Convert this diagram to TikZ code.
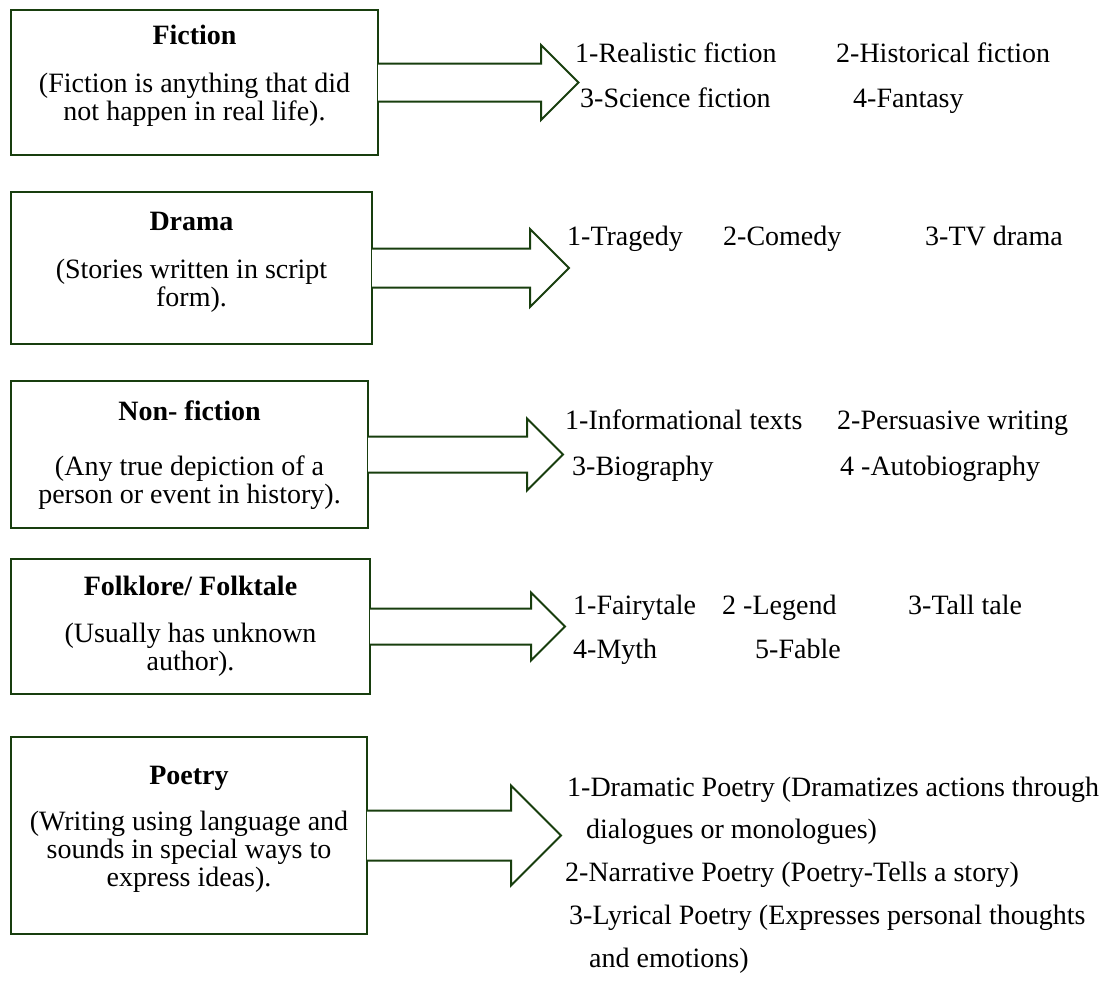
\documentclass[tikz,border=0pt]{standalone}
\usepackage{fontspec}
\setmainfont{Liberation Serif}
\usepackage{tikz}

\definecolor{boxgreen}{RGB}{24,62,14}

\begin{document}
\begin{tikzpicture}[x=1pt,y=-1pt,
	catbox/.style={draw=boxgreen,line width=2pt,rectangle,anchor=north west,inner sep=0pt},
	catarrow/.style={draw=boxgreen,line width=2pt,fill=white,line join=miter},
	cattitle/.style={font=\fontsize{28}{28}\selectfont\bfseries,anchor=base,inner sep=0pt},
	catdesc/.style={font=\fontsize{28}{28}\selectfont,align=center,anchor=base,inner sep=0pt},
	item/.style={font=\fontsize{28}{28}\selectfont,anchor=base west,inner sep=0pt}]
	\useasboundingbox (0,0) rectangle (1101,985);

	% Fiction
	\node[catbox,minimum width=367pt,minimum height=145pt] (fic) at (10,9) {};
	\node[cattitle] (ficTitle) at ([yshift=-36pt]fic.north) {Fiction};
	\node[catdesc] (ficDesc) at ([yshift=-111pt]fic.north) {(Fiction is anything that did\\not happen in real life).};
	% open at the box side, the fill hides the box edge there
	\draw[catarrow] ([xshift=-1pt,yshift=19pt]fic.east) -- ++(163,0) -- ++(0,-18.5)
		-- ++(37.5,37.5) -- ++(-37.5,37.5) -- ++(0,-18.5) -- ++(-163,0);
	\node[item] (ficA) at (575,62) {1-Realistic fiction};
	\node[item] (ficB) at (836,62) {2-Historical fiction};
	\node[item] (ficC) at (580,107) {3-Science fiction};
	\node[item] (ficD) at (853,107) {4-Fantasy};

	% Drama
	\node[catbox,minimum width=361pt,minimum height=152pt] (dra) at (10,191) {};
	\node[cattitle] (draTitle) at ([yshift=-39pt]dra.north) {Drama};
	\node[catdesc] (draDesc) at ([yshift=-115pt]dra.north) {(Stories written in script\\form).};
	\draw[catarrow] ([xshift=-1pt,yshift=19.5pt]dra.east) -- ++(158,0) -- ++(0,-19.5)
		-- ++(39,39) -- ++(-39,39) -- ++(0,-19.5) -- ++(-158,0);
	\node[item] (draA) at (567,245) {1-Tragedy};
	\node[item] (draB) at (723,245) {2-Comedy};
	\node[item] (draC) at (925,245) {3-TV drama};

	% Non-fiction
	\node[catbox,minimum width=357pt,minimum height=147pt] (non) at (10,380) {};
	\node[cattitle] (nonTitle) at ([yshift=-40pt]non.north) {Non- fiction};
	\node[catdesc] (nonDesc) at ([yshift=-123pt]non.north) {(Any true depiction of a\\person or event in history).};
	\draw[catarrow] ([xshift=-1pt,yshift=18pt]non.east) -- ++(159,0) -- ++(0,-18)
		-- ++(36,36) -- ++(-36,36) -- ++(0,-18) -- ++(-159,0);
	\node[item] (nonA) at (565,429) {1-Informational texts};
	\node[item] (nonB) at (837,429) {2-Persuasive writing};
	\node[item] (nonC) at (572,475) {3-Biography};
	\node[item] (nonD) at (840,475) {4 -Autobiography};

	% Folklore
	\node[catbox,minimum width=359pt,minimum height=135pt] (fol) at (10,558) {};
	\node[cattitle] (folTitle) at ([yshift=-37pt]fol.north) {Folklore/ Folktale};
	\node[catdesc] (folDesc) at ([yshift=-112pt]fol.north) {(Usually has unknown\\author).};
	\draw[catarrow] ([xshift=-1pt,yshift=18pt]fol.east) -- ++(161,0) -- ++(0,-16)
		-- ++(34,34) -- ++(-34,34) -- ++(0,-16) -- ++(-161,0);
	\node[item] (folA) at (573,614) {1-Fairytale};
	\node[item] (folB) at (722,614) {2 -Legend};
	\node[item] (folC) at (908,614) {3-Tall tale};
	\node[item] (folD) at (573,658) {4-Myth};
	\node[item] (folE) at (755,658) {5-Fable};

	% Poetry
	\node[catbox,minimum width=356pt,minimum height=197pt] (poe) at (10,736) {};
	\node[cattitle] (poeTitle) at ([yshift=-48pt]poe.north) {Poetry};
	\node[catdesc] (poeDesc) at ([yshift=-150pt]poe.north) {(Writing using language and\\sounds in special ways to\\express ideas).};
	\draw[catarrow] ([xshift=-1pt,yshift=25pt]poe.east) -- ++(144,0) -- ++(0,-25)
		-- ++(50,50) -- ++(-50,50) -- ++(0,-25) -- ++(-144,0);
	\node[item] (poeA) at (567,796) {1-Dramatic Poetry (Dramatizes actions through};
	\node[item] (poeB) at (586,838) {dialogues or monologues)};
	\node[item] (poeC) at (565,881) {2-Narrative Poetry (Poetry-Tells a story)};
	\node[item] (poeD) at (569,924) {3-Lyrical Poetry (Expresses personal thoughts};
	\node[item] (poeE) at (589,967) {and emotions)};
\end{tikzpicture}
\end{document}
